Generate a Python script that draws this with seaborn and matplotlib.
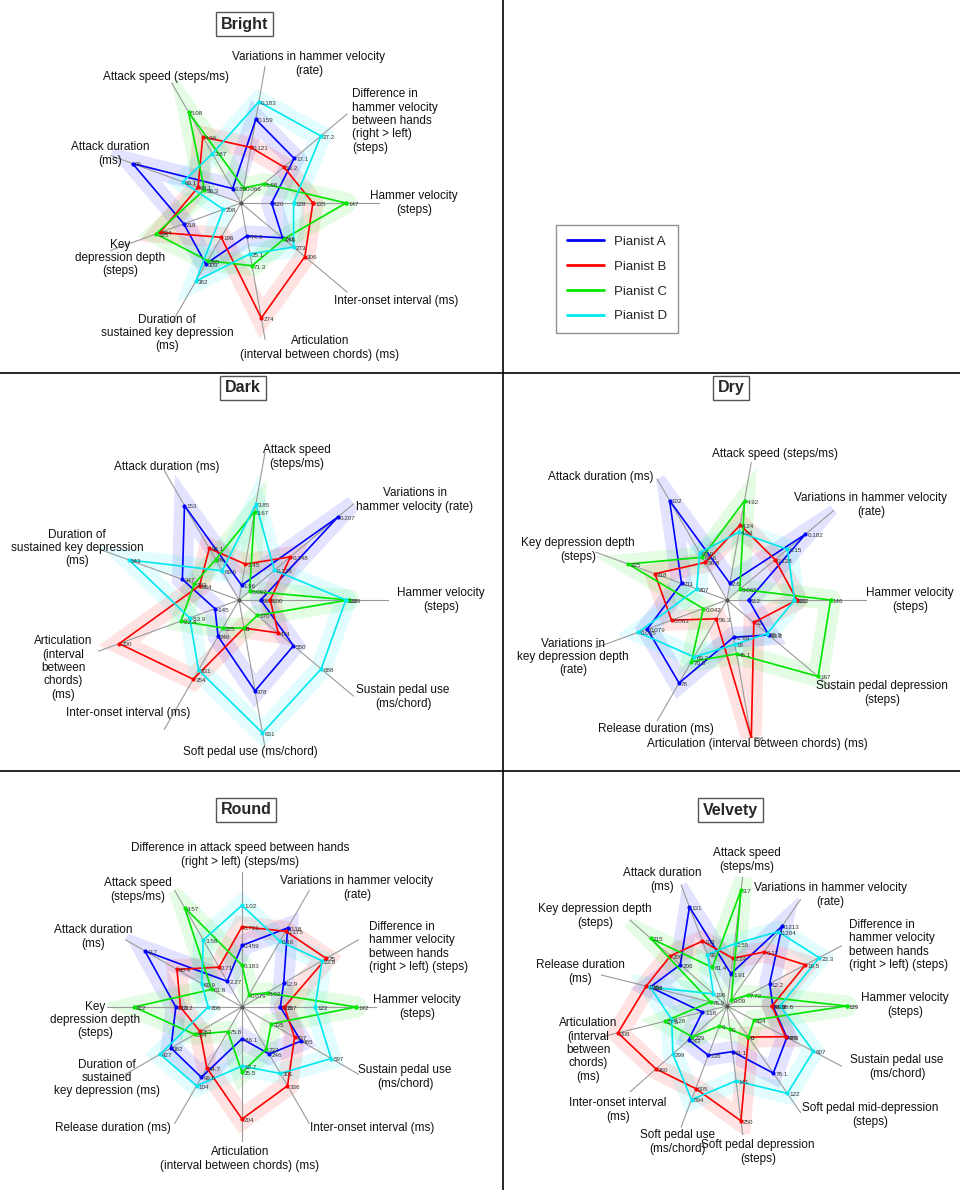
import numpy as np
import pandas as pd
import seaborn as sns
import matplotlib.pyplot as plt
from matplotlib.lines import Line2D

pianists = ['Pianist A', 'Pianist B', 'Pianist C', 'Pianist D']
colors = ['#0000ff', '#ff0000', '#00e600', '#00e8f0']

# ---- Bright ----
bright_axes = ['Hammer velocity\n(steps)',
               'Difference in\nhammer velocity\nbetween hands\n(right > left)\n(steps)',
               'Variations in hammer velocity\n(rate)',
               'Attack speed (steps/ms)',
               'Attack duration\n(ms)',
               'Key\ndepression depth\n(steps)',
               'Duration of\nsustained key depression\n(ms)',
               'Articulation\n(interval between chords) (ms)',
               'Inter-onset interval (ms)']
bright_A = [120, 17.1, 0.159, 2.85, 99, 218, 309, -44.9, 241]
bright_B = [135, 13.2, 0.121, 4.36, 60.1, 224, 196, 274, 306]
bright_C = [147, 5.68, 0.066, 5.08, 56.3, 225, 295, 71.3, 245]
bright_D = [128, 27.2, 0.183, 3.87, 69.1, 208, 382, 25.1, 273]
# radius (share of the axis) of the smallest and largest value on each axis
bright_span = [(0.22, 0.755), (0.216, 0.75), (0.11, 0.74), (0.12, 0.755), (0.28, 0.83),
               (0.135, 0.65), (0.285, 0.65), (0.24, 0.84), (0.39, 0.6)]
# centre of each axis title, in pixels from the top-left corner
bright_label_xy = [(414, 203), (395, 121), (309, 64), (166, 77), (110, 154),
                   (120, 258), (167, 333), (320, 348), (396, 301)]

# ---- Dark ----
dark_axes = ['Hammer velocity\n(steps)',
             'Variations in\nhammer velocity (rate)',
             'Attack speed\n(steps/ms)',
             'Attack duration (ms)',
             'Duration of\nsustained key depression\n(ms)',
             'Articulation\n(interval\nbetween\nchords)\n(ms)',
             'Inter-onset interval (ms)',
             'Soft pedal use (ms/chord)',
             'Sustain pedal use\n(ms/chord)']
dark_A = [96.5, 0.207, 1.96, 153, 347, -145, 246, 378, 550]
dark_B = [100, 0.148, 2.45, 98.1, 284, 200, 354, 0, 474]
dark_C = [129, 0.097, 3.67, 84, 303, -22.4, 225, 0, 370]
dark_D = [128, 0.128, 3.85, 69.6, 543, -53.9, 331, 631, 688]
dark_span = [(0.145, 0.73), (0.092, 0.86), (0.10, 0.65), (0.225, 0.727), (0.28, 0.78),
             (0.17, 0.85), (0.215, 0.61), (0.19, 0.90), (0.16, 0.715)]
dark_label_xy = [(441, 600), (415, 500), (297, 457), (167, 467), (77, 548),
                 (63, 668), (128, 713), (250, 752), (403, 697)]

# ---- Dry ----
dry_axes = ['Hammer velocity\n(steps)',
            'Variations in hammer velocity\n(rate)',
            'Attack speed (steps/ms)',
            'Attack duration (ms)',
            'Key depression depth\n(steps)',
            'Variations in\nkey depression depth\n(rate)',
            'Release duration (ms)',
            'Articulation (interval between chords) (ms)',
            'Sustain pedal depression\n(steps)']
dry_A = [112, 0.182, 2.6, 102, 211, 0.079, 78, -2.69, 63.2]
dry_B = [132, 0.128, 4.24, 56.8, 218, 0.063, 56.3, 286, 32]
dry_C = [146, 0.065, 4.92, 60.6, 225, 0.042, 70.8, 45.1, 167]
dry_D = [131, 0.15, 4.04, 63.9, 207, 0.085, 69.2, 18, 59.9]
dry_span = [(0.155, 0.74), (0.12, 0.73), (0.12, 0.72), (0.31, 0.82), (0.23, 0.75),
            (0.18, 0.675), (0.155, 0.685), (0.27, 1.0), (0.25, 0.85)]
dry_label_xy = [(910, 600), (871, 505), (775, 454), (601, 477), (578, 550),
                (573, 657), (656, 729), (757, 744), (882, 693)]

# ---- Round ----
round_axes = ['Hammer velocity\n(steps)',
              'Difference in\nhammer velocity\nbetween hands\n(right > left) (steps)',
              'Variations in hammer velocity\n(rate)',
              'Difference in attack speed between hands\n(right > left) (steps/ms)',
              'Attack speed\n(steps/ms)',
              'Attack duration\n(ms)',
              'Key\ndepression depth\n(steps)',
              'Duration of\nsustained\nkey depression (ms)',
              'Release duration (ms)',
              'Articulation\n(interval between chords) (ms)',
              'Inter-onset interval (ms)',
              'Sustain pedal use\n(ms/chord)']
round_A = [105, 12.9, 0.18, 0.459, 2.27, 117, 213, 382, 99.6, -86.1, 246, 465]
round_B = [107, 25, 0.175, 0.721, 2.71, 90.4, 212, 262, 94.7, 204, 336, 437]
round_C = [142, 8.02, 0.079, 0.183, 4.57, 61.6, 222, 284, 75.8, 35.5, 232, 335]
round_D = [122, 23.8, 0.16, 1.02, 3.56, 69.9, 206, 427, 104, 12.7, 301, 597]
round_span = [(0.284, 0.845), (0.21, 0.72), (0.105, 0.676), (0.31, 0.753), (0.22, 0.85),
              (0.26, 0.83), (0.25, 0.80), (0.36, 0.70), (0.21, 0.674), (0.235, 0.83),
              (0.36, 0.674), (0.25, 0.763)]
round_label_xy = [(417, 1007), (419, 947), (357, 888), (240, 855), (138, 890), (93, 937),
                  (95, 1020), (107, 1078), (113, 1128), (240, 1159), (372, 1128),
                  (405, 1077)]

# ---- Velvety ----
velvety_axes = ['Hammer velocity\n(steps)',
                'Difference in\nhammer velocity\nbetween hands\n(right > left) (steps)',
                'Variations in hammer velocity\n(rate)',
                'Attack speed\n(steps/ms)',
                'Attack duration\n(ms)',
                'Key depression depth\n(steps)',
                'Release duration\n(ms)',
                'Articulation\n(interval\nbetween\nchords)\n(ms)',
                'Inter-onset interval\n(ms)',
                'Soft pedal use\n(ms/chord)',
                'Soft pedal depression\n(steps)',
                'Soft pedal mid-depression\n(steps)',
                'Sustain pedal use\n(ms/chord)']
velvety_A = [95.3, 12.2, 0.213, 1.91, 131, 206, 106, -118, 242, 236, 61.1, 78.1, 485]
velvety_B = [94.9, 19.5, 0.17, 2.24, 103, 209, 108, 208, 360, 505, 250, 0, 479]
velvety_C = [129, 7.72, 0.09, 3.7, 81.4, 215, 75.9, 27.5, 229, 0, 0, 0, 334]
velvety_D = [98.6, 22.3, 0.204, 2.55, 92, 196, 106, 0.28, 299, 594, 141, 122, 607]
velvety_span = [(0.346, 0.92), (0.18, 0.80), (0.058, 0.745), (0.25, 0.90), (0.317, 0.815),
                (0.14, 0.785), (0.13, 0.64), (0.195, 0.864), (0.357, 0.73), (0.165, 0.77),
                (0.18, 0.89), (0.29, 0.817), (0.235, 0.75)]
velvety_label_xy = [(905, 1005), (899, 945), (830, 895), (747, 860), (662, 880),
                    (595, 916), (580, 972), (588, 1050), (618, 1110), (677, 1142),
                    (758, 1152), (870, 1115), (897, 1067)]

sns.set_theme(style='white')
plt.rcParams['font.family'] = ['Liberation Sans', 'DejaVu Sans']

W, H = 960, 1190
fig = plt.figure(figsize=(W / 100, H / 100), dpi=100)
palette = dict(zip(pianists, colors))


def draw_radar(name, labels, values, span, label_xy, cx, cy, R, title_y):
    ax = fig.add_axes([(cx - R) / W, 1 - (cy + R) / H, 2 * R / W, 2 * R / H],
                      projection='polar')
    n = len(labels)
    theta = np.deg2rad(np.arange(n) * 360.0 / n)
    vals = np.array(values, dtype=float)
    vmin, vmax = vals.min(axis=0), vals.max(axis=0)
    lo, hi = np.array(span).T
    r = lo + (hi - lo) * (vals - vmin) / (vmax - vmin)

    rows = []
    for i, p in enumerate(pianists):
        for k in list(range(n)) + [0]:
            rows.append({'pianist': p, 'theta': theta[k], 'r': r[i, k]})
    df = pd.DataFrame(rows)

    # soft bands behind each profile
    sns.lineplot(data=df, x='theta', y='r', hue='pianist', palette=palette, sort=False,
                 estimator=None, lw=15, alpha=0.11, legend=False, ax=ax, zorder=1,
                 solid_joinstyle='miter')
    for t in theta:
        ax.plot([t, t], [0, 1], color='#9a9a9a', lw=0.8, zorder=2)
    ax.plot([0], [0], marker='o', ms=2, color='#555555', zorder=2)
    sns.lineplot(data=df, x='theta', y='r', hue='pianist', palette=palette, sort=False,
                 estimator=None, lw=1.2, marker='o', markersize=3, markeredgewidth=0,
                 legend=False, ax=ax, zorder=3)

    for i in range(len(pianists)):
        for k in range(n):
            ax.annotate(f'{vals[i, k]:.3g}', (theta[k], r[i, k]), xytext=(1.5, -1),
                        textcoords='offset points', ha='left', va='center',
                        fontsize=4.5, color='#333333', zorder=4)

    for lab, (lx, ly) in zip(labels, label_xy):
        align = 'left' if lab.startswith('Difference in\n') else 'center'
        fig.text(lx / W, 1 - ly / H, lab, ha='center', va='center', fontsize=8.5,
                 color='#111111', multialignment=align, linespacing=1.15)

    ax.set_ylim(0, 1)
    ax.axis('off')
    ax.set_xlabel('')
    ax.set_ylabel('')

    fig.text(cx / W + 0.004, 1 - title_y / H, name, ha='center', va='center',
             fontsize=11.5, fontweight='bold',
             bbox=dict(boxstyle='square,pad=0.3', fc='white', ec='#555555', lw=1))


draw_radar('Bright', bright_axes, [bright_A, bright_B, bright_C, bright_D], bright_span,
           bright_label_xy, 241, 203, 139, 24)
draw_radar('Dark', dark_axes, [dark_A, dark_B, dark_C, dark_D], dark_span,
           dark_label_xy, 239, 600, 150, 388)
draw_radar('Dry', dry_axes, [dry_A, dry_B, dry_C, dry_D], dry_span,
           dry_label_xy, 727, 600, 140, 388)
draw_radar('Round', round_axes, [round_A, round_B, round_C, round_D], round_span,
           round_label_xy, 242, 1007, 135, 810)
draw_radar('Velvety', velvety_axes, [velvety_A, velvety_B, velvety_C, velvety_D],
           velvety_span, velvety_label_xy, 727, 1006, 130, 810)

# panel dividers
fig.add_artist(Line2D([503 / W, 503 / W], [0, 1], color='black', lw=1.2))
for y in [373, 771]:
    fig.add_artist(Line2D([0, 1], [1 - y / H, 1 - y / H], color='black', lw=1.2))

handles = [Line2D([], [], color=c, lw=2) for c in colors]
leg = fig.legend(handles, pianists, loc='center', bbox_to_anchor=(617 / W, 1 - 279 / H),
                 frameon=True, fancybox=False, edgecolor='#777777', fontsize=9.5,
                 handlelength=2.8, labelspacing=0.95, borderpad=0.8, handletextpad=0.8)
leg.get_frame().set_linewidth(1.0)

fig.savefig('out.png', dpi=100)
